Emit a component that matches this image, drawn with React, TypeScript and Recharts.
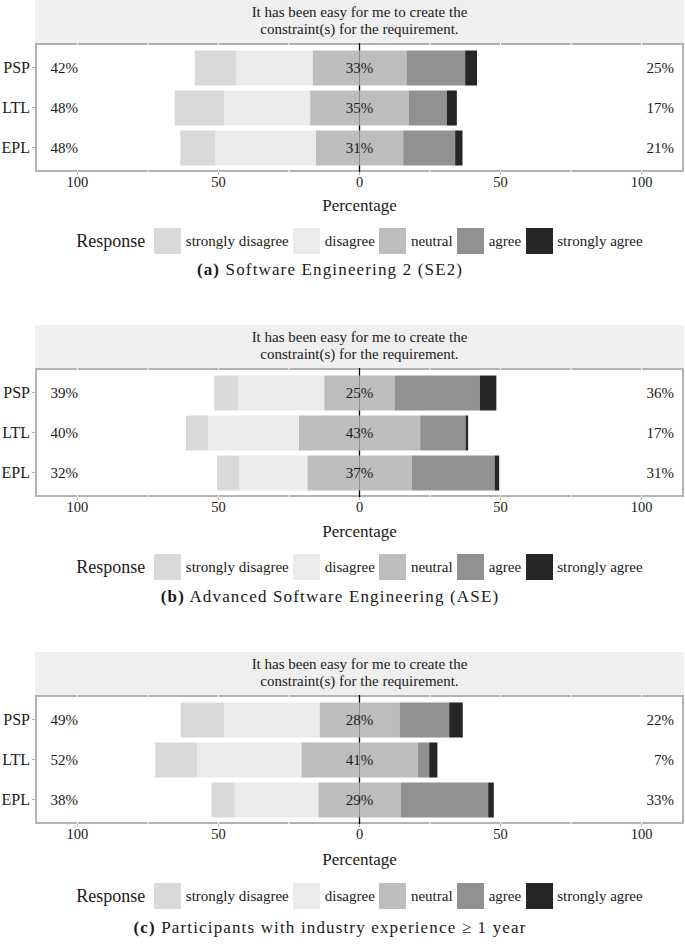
import React from 'react';
import {
  BarChart,
  Bar,
  XAxis,
  YAxis,
  CartesianGrid,
  ReferenceDot,
} from 'recharts';

const categories = ['PSP', 'LTL', 'EPL'];
const responses = ['strongly disagree', 'disagree', 'neutral', 'agree', 'strongly agree'];
const responseColors = ['#D9D9D9', '#EBEBEB', '#BDBDBD', '#919191', '#262626'];
const xTicks = [-100, -50, 0, 50, 100];
const gridValues = [-100, -75, -50, -25, 25, 50, 75, 100];
const zeroLine = [0];
const question = ['It has been easy for me to create the', 'constraint(s) for the requirement.'];

// (a) Software Engineering 2
const se2StronglyDisagree = [14.6, 17.5, 12.4];
const se2Disagree = [27.1, 30.5, 35.6];
const se2Neutral = [33.3, 35.0, 31.0];
const se2Agree = [20.8, 13.5, 18.4];
const se2StronglyAgree = [4.2, 3.5, 2.6];

// (b) Advanced Software Engineering
const aseStronglyDisagree = [8.5, 7.8, 8.0];
const aseDisagree = [30.5, 32.2, 24.0];
const aseNeutral = [25.0, 43.0, 37.0];
const aseAgree = [30.2, 16.1, 29.4];
const aseStronglyAgree = [5.8, 0.9, 1.6];

// (c) industry experience >= 1 year
const indStronglyDisagree = [15.4, 14.9, 8.2];
const indDisagree = [33.8, 36.9, 29.6];
const indNeutral = [28.4, 41.2, 29.2];
const indAgree = [17.6, 4.1, 31.0];
const indStronglyAgree = [4.8, 2.9, 2.0];

const leftLabelAt = -109.5;
const rightLabelAt = 111.5;

const FONT = '"Liberation Serif", "Times New Roman", serif';
const TEXT = '#1A1A1A';

const buildRows = (sd: number[], d: number[], n: number[], a: number[], sa: number[]) =>
  categories.map((cat, i) => ({
    cat,
    neutralLeft: -n[i] / 2,
    neutralRight: n[i] / 2,
    disagree: -d[i],
    agree: a[i],
    stronglyDisagree: -sd[i],
    stronglyAgree: sa[i],
    leftLabel: `${Math.round(sd[i] + d[i])}%`,
    midLabel: `${Math.round(n[i])}%`,
    rightLabel: `${Math.round(a[i] + sa[i])}%`,
  }));

const panels = [
  {
    top: 0,
    lower: 0,
    tag: '(a)',
    caption: 'Software Engineering 2 (SE2)',
    rows: buildRows(se2StronglyDisagree, se2Disagree, se2Neutral, se2Agree, se2StronglyAgree),
  },
  {
    top: 325,
    lower: 1,
    tag: '(b)',
    caption: 'Advanced Software Engineering (ASE)',
    rows: buildRows(aseStronglyDisagree, aseDisagree, aseNeutral, aseAgree, aseStronglyAgree),
  },
  {
    top: 652,
    lower: 3,
    tag: '(c)',
    caption: 'Participants with industry experience \u2265 1 year',
    rows: buildRows(indStronglyDisagree, indDisagree, indNeutral, indAgree, indStronglyAgree),
  },
];

const PLOT_LEFT = 35;
const PLOT_WIDTH = 649;
const HEADER_H = 43;
const PLOT_H = 129;

const textShape = (value: string, anchor: 'start' | 'middle' | 'end') => (props: any) => (
  <text
    x={props.cx}
    y={props.cy}
    dy="0.35em"
    textAnchor={anchor}
    fontFamily={FONT}
    fontSize={15}
    fill={TEXT}
  >
    {value}
  </text>
);

const Panel = ({ top, lower, tag, caption, rows }: any) => (
  <div style={{ position: 'absolute', left: 0, top, width: 685, height: 325 }}>
    <div
      style={{
        position: 'absolute',
        left: PLOT_LEFT,
        top: 0,
        width: PLOT_WIDTH,
        height: HEADER_H,
        background: '#EFEFEF',
        fontFamily: FONT,
        fontSize: 15,
        color: TEXT,
        textAlign: 'center',
        lineHeight: '17px',
        paddingTop: 4,
        boxSizing: 'border-box',
      }}
    >
      {question[0]}
      <br />
      {question[1]}
    </div>
    <div
      style={{
        position: 'absolute',
        left: PLOT_LEFT,
        top: HEADER_H,
        width: PLOT_WIDTH,
        height: PLOT_H,
        border: '2px solid #B3B3B3',
        boxSizing: 'border-box',
      }}
    />
    <div style={{ position: 'absolute', left: 0, top: HEADER_H }}>
      <BarChart
        width={685}
        height={PLOT_H + 30}
        data={rows}
        layout="vertical"
        stackOffset="sign"
        barSize={35}
        margin={{ top: 0, right: 1, bottom: 0, left: 0 }}
      >
        <CartesianGrid
          horizontal={false}
          stroke="#FFFFFF"
          strokeWidth={1}
          verticalValues={gridValues}
        />
        <CartesianGrid
          horizontal={false}
          stroke="#000000"
          strokeWidth={1.3}
          verticalValues={zeroLine}
        />
        <XAxis
          type="number"
          domain={[-115, 115]}
          ticks={xTicks}
          allowDataOverflow
          tickFormatter={(v) => `${Math.abs(v)}`}
          axisLine={false}
          tickLine={{ stroke: '#B3B3B3' }}
          tickSize={3}
          tickMargin={2}
          height={30}
          tick={{ fontFamily: FONT, fontSize: 14.5, fill: TEXT }}
        />
        <YAxis
          type="category"
          dataKey="cat"
          width={35}
          padding={{ top: 4.5, bottom: 4.5 }}
          axisLine={false}
          tickLine={{ stroke: '#B3B3B3' }}
          tickSize={3}
          tickMargin={2}
          tick={{ fontFamily: FONT, fontSize: 16, fill: TEXT }}
        />
        <Bar dataKey="neutralLeft" stackId="s" fill={responseColors[2]} isAnimationActive={false} />
        <Bar dataKey="neutralRight" stackId="s" fill={responseColors[2]} isAnimationActive={false} />
        <Bar dataKey="disagree" stackId="s" fill={responseColors[1]} isAnimationActive={false} />
        <Bar dataKey="agree" stackId="s" fill={responseColors[3]} isAnimationActive={false} />
        <Bar dataKey="stronglyDisagree" stackId="s" fill={responseColors[0]} isAnimationActive={false} />
        <Bar dataKey="stronglyAgree" stackId="s" fill={responseColors[4]} isAnimationActive={false} />
        {rows.map((r: any) => (
          <ReferenceDot key={`l${r.cat}`} x={leftLabelAt} y={r.cat} r={0} shape={textShape(r.leftLabel, 'start')} />
        ))}
        {rows.map((r: any) => (
          <ReferenceDot key={`m${r.cat}`} x={0} y={r.cat} r={0} shape={textShape(r.midLabel, 'middle')} />
        ))}
        {rows.map((r: any) => (
          <ReferenceDot key={`r${r.cat}`} x={rightLabelAt} y={r.cat} r={0} shape={textShape(r.rightLabel, 'end')} />
        ))}
      </BarChart>
    </div>
    <div
      style={{
        position: 'absolute',
        left: PLOT_LEFT,
        width: PLOT_WIDTH,
        top: 196 + lower / 2,
        height: 20,
        lineHeight: '20px',
        textAlign: 'center',
        fontFamily: FONT,
        fontSize: 17,
        color: TEXT,
      }}
    >
      Percentage
    </div>
    <div
      style={{
        position: 'absolute',
        left: PLOT_LEFT,
        width: PLOT_WIDTH,
        top: 228 + lower,
        height: 26,
        display: 'flex',
        alignItems: 'center',
        justifyContent: 'center',
        fontFamily: FONT,
        color: TEXT,
      }}
    >
      <span style={{ fontSize: 18, marginRight: 9 }}>Response</span>
      {responses.map((name, i) => (
        <span key={name} style={{ display: 'flex', alignItems: 'center' }}>
          <span
            style={{ width: 27, height: 26, background: responseColors[i], display: 'inline-block' }}
          />
          <span
            style={{ fontSize: 15, marginLeft: 4.5, marginRight: i < responses.length - 1 ? 4.6 : 0 }}
          >
            {name}
          </span>
        </span>
      ))}
    </div>
    <div
      style={{
        position: 'absolute',
        left: 0,
        width: 660,
        top: 259 + lower * 2,
        height: 22,
        lineHeight: '22px',
        textAlign: 'center',
        fontFamily: FONT,
        fontSize: 17,
        letterSpacing: 1.15,
        color: TEXT,
      }}
    >
      <b>{tag}</b> {caption}
    </div>
  </div>
);

export default function App() {
  return (
    <div
      style={{
        position: 'absolute',
        left: 0,
        top: 0,
        width: 685,
        height: 944,
        background: '#FFFFFF',
      }}
    >
      {panels.map((p) => (
        <Panel key={p.tag} {...p} />
      ))}
    </div>
  );
}
